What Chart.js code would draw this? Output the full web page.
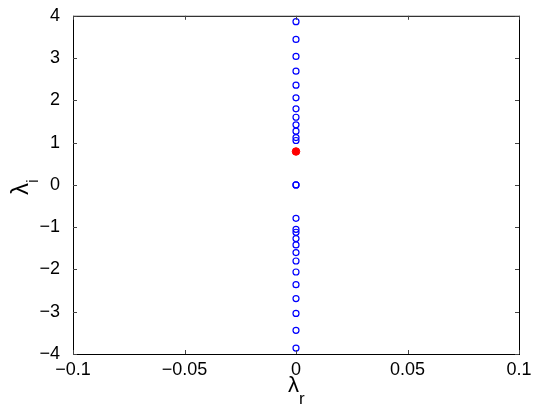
<!DOCTYPE html>
<html>
<head>
<meta charset="utf-8">
<script src="https://cdn.jsdelivr.net/npm/chart.js@4"></script>
<style>
  html, body { margin: 0; padding: 0; background: #fff; }
  #wrap { width: 536px; height: 414px; }
</style>
</head>
<body>
<div id="wrap"><canvas id="eigChart" width="536" height="414"></canvas></div>
<script>
const blueReal = [0, 0, 0, 0, 0, 0, 0, 0, 0, 0, 0, 0, 0, 0,
                  0, 0, 0, 0, 0, 0, 0, 0, 0, 0, 0, 0, 0];
const blueImag = [3.86, 3.44, 3.04, 2.69, 2.36, 2.06, 1.8, 1.6, 1.42, 1.27, 1.12, 1.05, 0, 0,
                  -0.79, -1.05, -1.12, -1.27, -1.42, -1.6, -1.8, -2.06, -2.36, -2.69, -3.04, -3.44, -3.86];
const redReal = [0];
const redImag = [0.79];

const xTicks = [-0.1, -0.05, 0, 0.05, 0.1];
const yTicks = [-4, -3, -2, -1, 0, 1, 2, 3, 4];

const fmt = (v) => String(v).replace("-", "\u2212");

// MATLAB-like box with inward ticks, plus the subscripted axis labels
const boxPlugin = {
  id: "box",
  afterDraw(chart) {
    const { ctx, chartArea: a, scales } = chart;
    ctx.save();
    ctx.strokeStyle = "#000";
    ctx.lineWidth = 1;
    ctx.strokeRect(a.left + 0.5, a.top + 0.5, a.right - a.left, a.bottom - a.top);
    ctx.strokeStyle = "#444";
    const len = 4;
    xTicks.forEach((t) => {
      const px = Math.round(scales.x.getPixelForValue(t)) + 0.5;
      ctx.beginPath();
      ctx.moveTo(px, a.bottom); ctx.lineTo(px, a.bottom - len);
      ctx.moveTo(px, a.top); ctx.lineTo(px, a.top + len);
      ctx.stroke();
    });
    yTicks.forEach((t) => {
      const py = Math.round(scales.y.getPixelForValue(t)) + 0.5;
      ctx.beginPath();
      ctx.moveTo(a.left, py); ctx.lineTo(a.left + len, py);
      ctx.moveTo(a.right, py); ctx.lineTo(a.right - len, py);
      ctx.stroke();
    });

    // axis titles: lambda with a lowered subscript
    ctx.fillStyle = "#000";
    ctx.textBaseline = "alphabetic";
    ctx.textAlign = "left";
    const cx = (a.left + a.right) / 2;
    ctx.font = "22px 'Liberation Sans'";
    ctx.fillText("\u03bb", cx - 8, 392);
    ctx.font = "17px 'Liberation Sans'";
    ctx.fillText("r", cx + 3, 404);

    const cy = (a.top + a.bottom) / 2;
    ctx.translate(28, cy);
    ctx.rotate(-Math.PI / 2);
    ctx.font = "24px 'Liberation Sans'";
    ctx.fillText("\u03bb", -10, 0);
    ctx.font = "17px 'Liberation Sans'";
    ctx.fillText("i", 2, 10);
    ctx.restore();
  },
};

const ctx = document.getElementById("eigChart").getContext("2d");
new Chart(ctx, {
  type: "scatter",
  data: {
    datasets: [
      {
        label: "stable",
        data: blueReal.map((x, i) => ({ x: x, y: blueImag[i] })),
        pointStyle: "circle",
        pointRadius: 3,
        pointBorderWidth: 1.2,
        borderColor: "#0000ff",
        backgroundColor: "rgba(0,0,0,0)",
      },
      {
        label: "unstable",
        data: redReal.map((x, i) => ({ x: x, y: redImag[i] })),
        pointStyle: "circle",
        pointRadius: 3.8,
        pointBorderWidth: 1,
        borderColor: "#ff0000",
        backgroundColor: "#ff0000",
      },
    ],
  },
  options: {
    responsive: false,
    animation: false,
    layout: { padding: { top: 14, right: 17, left: 0, bottom: 0 } },
    plugins: { legend: { display: false }, tooltip: { enabled: false } },
    scales: {
      x: {
        type: "linear",
        min: -0.1,
        max: 0.1,
        afterBuildTicks: (s) => { s.ticks = xTicks.map((v) => ({ value: v })); },
        afterFit: (s) => { s.height = 60; },
        grid: { display: false },
        border: { display: false },
        ticks: {
          color: "#000",
          font: { family: "Liberation Sans", size: 18 },
          padding: -3,
          maxRotation: 0,
          callback: (v) => fmt(v),
        },
      },
      y: {
        type: "linear",
        min: -4,
        max: 4,
        afterBuildTicks: (s) => { s.ticks = yTicks.map((v) => ({ value: v })); },
        afterFit: (s) => { s.width = 73; },
        grid: { display: false },
        border: { display: false },
        ticks: {
          color: "#000",
          font: { family: "Liberation Sans", size: 18 },
          padding: 5,
          callback: (v) => fmt(v),
        },
      },
    },
  },
  plugins: [boxPlugin],
});
</script>
</body>
</html>
